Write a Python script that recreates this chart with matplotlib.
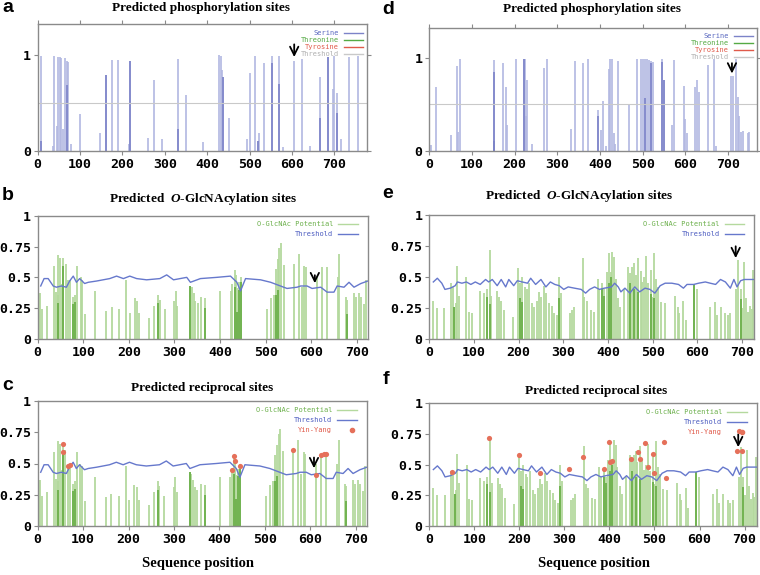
import numpy as np
import matplotlib.pyplot as plt

# ---------------- data ----------------
# panel a: phosphorylation (sequence position, score)
a_pos = [8, 35, 38.6, 45, 49, 53.5, 56, 60.6, 65, 68.5, 71, 78, 100, 146, 160.6, 175.6, 189,
         216, 218, 260, 274, 293, 330, 350, 390, 428, 431.5, 434, 436, 452, 494, 500, 512,
         519, 521, 533, 552, 569, 578, 605, 624, 643, 665, 685, 697, 700, 705, 716, 734, 755]
a_val = [0.99, 0.05, 0.99, 0.26, 0.98, 0.98, 0.97, 0.23, 0.97, 0.94, 0.93, 0.07, 0.39, 0.19, 0.79,
         0.95, 0.95, 0.07, 0.94, 0.14, 0.74, 0.12, 0.96, 0.58, 0.09, 1.0, 0.99, 0.84, 0.77, 0.34,
         0.13, 0.81, 0.99, 0.10, 0.19, 0.92, 0.99, 0.99, 0.04, 0.94, 0.96, 0.05, 0.77, 0.98, 0.65,
         0.99, 0.60, 0.12, 0.98, 0.99]
a_dark_pos = [8, 68.5, 160.6, 218, 330, 436, 519, 552, 569, 665, 685, 705]
a_dark_val = [0.10, 0.69, 0.79, 0.94, 0.23, 0.77, 0.10, 0.92, 0.70, 0.34, 0.98, 0.40]

# panel d: phosphorylation
d_pos = [5, 15, 50, 64.5, 67.6, 71.5, 151, 173, 179.5, 183, 204, 221, 224.5, 226, 228, 241, 268,
         276, 333, 341, 361, 371, 396, 402, 406, 414, 420, 424, 429, 432, 436, 443, 469, 487, 496,
         501, 505, 509, 514, 519, 524, 545, 549, 569, 573, 596, 600, 604, 623, 627, 631, 654, 667,
         671, 707, 712, 718, 723, 726, 730, 736, 746, 750]
d_val = [0.06, 0.69, 0.17, 0.91, 0.20, 0.98, 0.97, 0.94, 0.69, 0.28, 0.99, 0.98, 0.98, 0.37, 0.76,
         0.08, 0.89, 0.98, 0.24, 0.96, 0.94, 0.99, 0.44, 0.22, 0.54, 0.05, 0.88, 0.99, 0.99, 0.19,
         0.07, 0.96, 0.49, 0.99, 0.99, 0.99, 0.99, 0.99, 0.97, 0.96, 0.95, 0.99, 0.76, 0.28, 0.97,
         0.70, 0.34, 0.19, 0.69, 0.76, 0.63, 0.92, 0.98, 0.05, 0.80, 0.80, 0.98, 0.58, 0.37, 0.20,
         0.21, 0.19, 0.20]
d_dark_pos = [151, 151, 221, 396, 505, 519, 545, 549]
d_dark_val = [0.85, 0.11, 0.98, 0.37, 0.57, 0.94, 0.95, 0.76]

# panels b / c: O-GlcNAc potential (same protein as a)
b_pos = [6, 10, 20, 35, 40, 44, 45.5, 49, 53, 55, 56.5, 61, 67.5, 71, 78, 81, 87, 94, 98, 103,
         125, 150, 162, 178, 194, 202, 213, 218, 222, 244, 255, 265, 268, 279, 299, 303, 306, 335,
         338, 342, 346, 351, 359, 368, 401, 424, 427, 432, 434, 437, 441, 446, 503, 511, 518, 522,
         527, 530, 534, 540, 562, 573, 580, 585, 589, 613, 624, 634, 659, 662, 676, 679, 694, 698,
         705, 710, 716, 721]
b_val = [0.37, 0.24, 0.27, 0.59, 0.38, 0.36, 0.68, 0.66, 0.45, 0.66, 0.59, 0.61, 0.48, 0.48, 0.34,
         0.36, 0.59, 0.50, 0.48, 0.20, 0.39, 0.23, 0.26, 0.24, 0.48, 0.21, 0.33, 0.31, 0.21, 0.17,
         0.27, 0.36, 0.32, 0.24, 0.31, 0.39, 0.27, 0.43, 0.42, 0.37, 0.31, 0.29, 0.34, 0.33, 0.39,
         0.39, 0.45, 0.56, 0.52, 0.41, 0.46, 0.50, 0.24, 0.33, 0.36, 0.57, 0.65, 0.74, 0.78, 0.60,
         0.61, 0.69, 0.42, 0.59, 0.58, 0.50, 0.58, 0.58, 0.50, 0.69, 0.34, 0.32, 0.37, 0.34, 0.37,
         0.34, 0.28, 0.48]
b_dark_pos = [44, 56.5, 78, 81, 265, 335, 368, 432, 437, 441, 446, 522, 527, 679]
b_dark_val = [0.29, 0.59, 0.28, 0.30, 0.29, 0.43, 0.25, 0.42, 0.22, 0.40, 0.46, 0.36, 0.40, 0.20]
b_thr_pos = [6.6, 14, 23, 34, 41, 52, 63, 70, 78, 85, 92, 103, 111, 129, 158, 173, 188, 202, 217,
             239, 268, 283, 298, 327, 335, 357, 393, 423, 437, 445, 456, 489, 511, 547, 569, 577,
             591, 602, 621, 635, 650, 657, 672, 683, 694, 709, 724]
b_thr_val = [0.43, 0.49, 0.49, 0.43, 0.42, 0.43, 0.42, 0.47, 0.51, 0.46, 0.49, 0.45, 0.46, 0.47,
             0.49, 0.51, 0.49, 0.51, 0.49, 0.48, 0.49, 0.52, 0.48, 0.50, 0.46, 0.49, 0.50, 0.51,
             0.46, 0.39, 0.49, 0.48, 0.46, 0.41, 0.42, 0.43, 0.43, 0.41, 0.42, 0.38, 0.38, 0.43,
             0.42, 0.46, 0.42, 0.45, 0.47]
c_yy_pos = [55, 56.5, 67.5, 71, 427, 432, 434, 446, 562, 613, 624, 629, 634]
c_yy_val = [0.66, 0.59, 0.48, 0.49, 0.45, 0.56, 0.52, 0.48, 0.61, 0.41, 0.57, 0.58, 0.58]

# panels e / f: O-GlcNAc potential (same protein as d)
e_pos = [9, 18, 34, 49, 52, 56, 59, 62, 67, 83, 88, 95, 113, 122, 129, 135, 139, 152, 156, 161,
         168, 188, 199, 203, 207, 214, 218, 223, 231, 235, 242, 246, 250, 256, 261, 268, 274, 280,
         286, 291, 295, 315, 319, 323, 344, 347, 353, 361, 368, 377, 381, 387, 392, 397, 402, 406,
         410, 414, 417, 423, 428, 436, 445, 449, 454, 459, 462, 468, 473, 477, 481, 486, 490, 496,
         499, 504, 508, 513, 519, 528, 550, 556, 560, 569, 574, 592, 599, 629, 639, 644, 652, 663,
         668, 674, 687, 692, 697, 701, 705, 710, 714, 719, 722, 725]
e_val = [0.31, 0.25, 0.25, 0.45, 0.42, 0.26, 0.29, 0.59, 0.35, 0.50, 0.22, 0.21, 0.39, 0.37, 0.40,
         0.72, 0.35, 0.39, 0.34, 0.31, 0.23, 0.18, 0.57, 0.45, 0.50, 0.42, 0.40, 0.45, 0.29, 0.26,
         0.31, 0.38, 0.34, 0.43, 0.37, 0.29, 0.27, 0.21, 0.19, 0.50, 0.37, 0.21, 0.23, 0.26, 0.65,
         0.34, 0.31, 0.23, 0.22, 0.48, 0.40, 0.45, 0.40, 0.54, 0.69, 0.54, 0.70, 0.66, 0.48, 0.33,
         0.26, 0.40, 0.58, 0.53, 0.58, 0.61, 0.52, 0.65, 0.55, 0.46, 0.50, 0.67, 0.45, 0.56, 0.34,
         0.69, 0.48, 0.42, 0.30, 0.29, 0.35, 0.26, 0.21, 0.31, 0.15, 0.44, 0.40, 0.26, 0.30, 0.19,
         0.26, 0.21, 0.19, 0.21, 0.40, 0.64, 0.40, 0.25, 0.62, 0.33, 0.22, 0.27, 0.24, 0.56]
e_dark_pos = [56, 129, 135, 203, 207, 291, 387, 392, 402, 406, 449, 459, 468, 496, 504, 592, 697]
e_dark_val = [0.26, 0.34, 0.28, 0.33, 0.30, 0.33, 0.40, 0.35, 0.45, 0.50, 0.45, 0.40, 0.38, 0.36,
              0.33, 0.44, 0.32]
e_thr_pos = [9, 18, 28, 35, 47, 58, 63, 73, 83, 93, 103, 114, 126, 133, 141, 152, 161, 171, 178,
             189, 197, 208, 220, 227, 238, 250, 261, 271, 281, 291, 301, 311, 325, 340, 350, 359,
             370, 381, 392, 408, 415, 423, 429, 438, 449, 460, 471, 483, 494, 505, 517, 528, 543,
             558, 569, 577, 592, 603, 618, 629, 641, 652, 663, 674, 682, 689, 697, 705, 716, 727]
e_thr_val = [0.46, 0.49, 0.45, 0.40, 0.41, 0.43, 0.46, 0.45, 0.46, 0.44, 0.46, 0.44, 0.48, 0.46,
             0.48, 0.43, 0.48, 0.42, 0.48, 0.43, 0.47, 0.46, 0.45, 0.49, 0.44, 0.48, 0.42, 0.46,
             0.44, 0.43, 0.40, 0.42, 0.41, 0.40, 0.37, 0.40, 0.42, 0.40, 0.41, 0.42, 0.45, 0.42,
             0.38, 0.41, 0.37, 0.42, 0.38, 0.41, 0.40, 0.37, 0.43, 0.45, 0.45, 0.44, 0.41, 0.44,
             0.44, 0.45, 0.46, 0.45, 0.44, 0.48, 0.46, 0.41, 0.48, 0.42, 0.47, 0.48, 0.48, 0.48]
f_yy_pos = [50, 133, 200, 245, 310, 341, 387, 398, 401, 406, 447, 464, 468, 478, 485, 496, 498,
            521, 525, 687, 684, 694]
f_yy_val = [0.44, 0.72, 0.58, 0.43, 0.465, 0.56, 0.465, 0.687, 0.52, 0.53, 0.55, 0.605, 0.55,
            0.674, 0.484, 0.584, 0.435, 0.687, 0.39, 0.774, 0.614, 0.614]

# arrows: (x, tail y, head y)
arrows = {"a": (605, 1.14, 0.95), "d": (709, 0.97, 0.80), "b": (608, 0.54, 0.43),
          "c": (608, 0.57, 0.44), "e": (686, 0.77, 0.63), "f": (686, 0.77, 0.62)}

# ---------------- style ----------------
blue_light = "#b2b7e1"
blue_dark = "#7c83c8"
green_light = "#b4d99e"
green_dark = "#6cb04a"
thr_blue = "#6678cc"
gray_thr = "#c9c9c9"
yy_red = "#e5705a"
frame = "#8a8a8a"
mono = "DejaVu Sans Mono"
W, H = 760, 575

plt.rcParams["mathtext.fontset"] = "custom"
plt.rcParams["mathtext.bfit"] = "Liberation Serif:bold:italic"

fig = plt.figure(figsize=(W / 100, H / 100), dpi=100)


def add_ax(l, r, t, b):
    return fig.add_axes([l / W, 1 - b / H, (r - l) / W, (b - t) / H])


def style(ax, xmax, ymax, yticks, ylabels, all_sides):
    ax.set_xlim(0, xmax)
    ax.set_ylim(0, ymax)
    ax.set_xticks(range(0, 701, 100))
    ax.set_yticks(yticks)
    ax.set_yticklabels(ylabels)
    for lab in ax.get_xticklabels() + ax.get_yticklabels():
        lab.set_family(mono)
        lab.set_weight("bold")
        lab.set_fontsize(9.5)
    for s in ax.spines.values():
        s.set_color(frame)
        s.set_linewidth(1.0)
    ax.tick_params(direction="out", length=3, width=0.8, color=frame, pad=2,
                   top=all_sides, right=all_sides)


def tiny_legend(ax, entries, x_text, y0, dy):
    # entries: (label, text colour, line colour, marker?)
    for i, (lab, tc, lc, mk) in enumerate(entries):
        y = y0 - i * dy
        ax.text(x_text, y, lab, transform=ax.transAxes, ha="right", va="center",
                fontsize=5, family=mono, color=tc)
        if mk:
            ax.plot([x_text + 0.06], [y], "o", ms=3, color=yy_red, transform=ax.transAxes,
                    clip_on=False)
        else:
            ax.plot([x_text + 0.015, x_text + 0.075], [y, y], color=lc, lw=1.0,
                    transform=ax.transAxes)


def arrow(ax, key):
    x, yt, yh = arrows[key]
    ax.annotate("", xy=(x, yh), xytext=(x, yt),
                arrowprops=dict(arrowstyle="->", color="black", lw=1.3, mutation_scale=15))


def phospho(ax, pos, val, dpos, dval, xmax, key):
    ax.vlines(pos, 0, val, color=blue_light, lw=1.2)
    ax.vlines(dpos, 0, dval, color=blue_dark, lw=1.2)
    ax.axhline(0.5, color=gray_thr, lw=0.8)
    style(ax, xmax, 1.32, [0, 1], ["0", "1"], True)
    tiny_legend(ax, [("Serine", "#5a68c0", blue_dark, False),
                     ("Threonine", "#55aa44", "#55aa44", False),
                     ("Tyrosine", "#e05a4a", "#e05a4a", False),
                     ("Threshold", "#b0b0b0", gray_thr, False)], 0.915, 0.93, 0.055)
    arrow(ax, key)


def glc(ax, pos, val, dpos, dval, tpos, tval, xmax, key, ypos=None, yval=None):
    ax.vlines(pos, 0, val, color=green_light, lw=1.3)
    ax.vlines(dpos, 0, dval, color=green_dark, lw=1.3)
    ax.plot(tpos, tval, color=thr_blue, lw=1.0)
    entries = [("O-GlcNAc Potential", "#6cb04c", green_light, False),
               ("Threshold", "#4c5cc0", thr_blue, False)]
    if ypos is not None:
        ax.scatter(ypos, yval, s=14, color=yy_red, zorder=5, linewidths=0)
        entries.append(("Yin-Yang", "#e05a4a", None, True))
    style(ax, xmax, 1.0, [0, 0.25, 0.5, 0.75, 1], ["0", "0.25", "0.5", "0.75", "1"], False)
    tiny_legend(ax, entries, 0.895, 0.93, 0.08)
    arrow(ax, key)


ax_a = add_ax(37.7, 366.7, 24.3, 151)
ax_d = add_ax(429.3, 756.7, 27.7, 151)
ax_b = add_ax(37.7, 367.7, 215.7, 339)
ax_e = add_ax(429.3, 754, 215, 339)
ax_c = add_ax(37.7, 366.7, 401, 526)
ax_f = add_ax(429.3, 756.7, 403.3, 526)

phospho(ax_a, a_pos, a_val, a_dark_pos, a_dark_val, 776, "a")
phospho(ax_d, d_pos, d_val, d_dark_pos, d_dark_val, 767, "d")
glc(ax_b, b_pos, b_val, b_dark_pos, b_dark_val, b_thr_pos, b_thr_val, 724, "b")
glc(ax_e, e_pos, e_val, e_dark_pos, e_dark_val, e_thr_pos, e_thr_val, 727, "e")
glc(ax_c, b_pos, b_val, b_dark_pos, b_dark_val, b_thr_pos, b_thr_val, 724, "c",
    c_yy_pos, c_yy_val)
glc(ax_f, e_pos, e_val, e_dark_pos, e_dark_val, e_thr_pos, e_thr_val, 727, "f",
    f_yy_pos, f_yy_val)

# titles, panel letters, x labels
serif = "Liberation Serif"
titles = [("Predicted phosphorylation sites", 201, 8),
          ("Predicted phosphorylation sites", 592, 9),
          ("Predicted  $\\bfit{O}$-GlcNAcylation sites", 203, 199),
          ("Predicted  $\\bfit{O}$-GlcNAcylation sites", 579, 196),
          ("Predicted reciprocal sites", 202, 388),
          ("Predicted reciprocal sites", 596, 391)]
for txt, x, y in titles:
    fig.text(x / W, 1 - y / H, txt, ha="center", va="center", fontsize=9.5,
             family=serif, weight="bold")

letters = [("a", 2, 8), ("d", 382, 9), ("b", 2, 195), ("e", 382, 193), ("c", 2, 386), ("f", 383, 380)]
for txt, x, y in letters:
    fig.text(x / W, 1 - y / H, txt, ha="left", va="center", fontsize=14,
             family="Liberation Sans", weight="bold")

for x in (198, 594):
    fig.text(x / W, 1 - 563 / H, "Sequence position", ha="center", va="center",
             fontsize=10.5, family=serif, weight="bold")

fig.savefig("out.png", dpi=100)
